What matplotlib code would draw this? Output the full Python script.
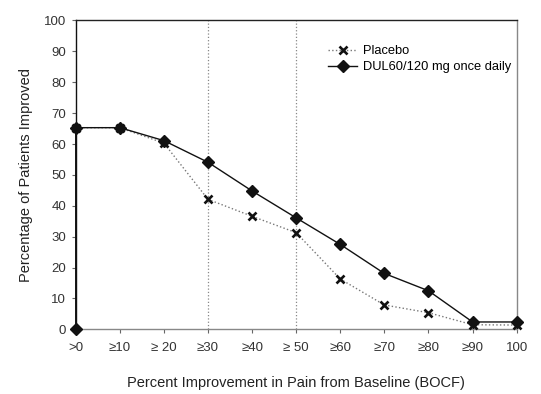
import matplotlib
matplotlib.use("Agg")
import matplotlib.pyplot as plt

categories = [">0", "≥10", "≥ 20", "≥30", "≥40", "≥ 50", "≥60", "≥70", "≥80", "≥90", "100"]
placebo = [65.3, 65.3, 60.3, 42.1, 36.6, 31.3, 16.3, 7.9, 5.4, 1.5, 1.4]
dul = [65.3, 65.3, 61.1, 54.1, 44.8, 36.1, 27.5, 18.1, 12.5, 2.4, 2.4]
origin_value = [0.0]
ref_lines = [3, 5]
yticks = list(range(0, 101, 10))

plt.rcParams['font.family'] = ['Liberation Sans', 'DejaVu Sans']

fig = plt.figure(figsize=(5.41, 3.94), dpi=100)
ax = fig.add_axes([0.140, 0.164, 0.815, 0.784])

x = list(range(len(categories)))
for xv in ref_lines:
    ax.axvline(xv, color='#888888', linestyle=':', linewidth=0.9, zorder=1)

ax.plot(x, placebo, color='#777777', linestyle=':', linewidth=1.0, marker='x',
        markersize=6, markeredgewidth=1.9, markeredgecolor='#111111',
        label='Placebo', zorder=3, clip_on=False)
ax.plot([0] + x, origin_value + dul, color='#111111', linestyle='-', linewidth=1.0, marker='D',
        markersize=6, markerfacecolor='#111111', markeredgecolor='#111111',
        label='DUL60/120 mg once daily', zorder=4, clip_on=False)

ax.set_xlim(0, 10)
ax.set_ylim(0, 100)
ax.set_xticks(x)
ax.set_xticklabels(categories)
ax.set_yticks(yticks)

ax.tick_params(axis='both', direction='out', length=3, width=0.8, color='#666666',
               labelsize=9.5, labelcolor='#333333', pad=4)
ax.tick_params(axis='x', pad=6)

ax.spines['left'].set_color('#111111')
ax.spines['top'].set_color('#222222')
ax.spines['right'].set_color('#888888')
ax.spines['bottom'].set_color('#888888')
for s in ax.spines.values():
    s.set_linewidth(1.0)

ax.set_ylabel('Percentage of Patients Improved', fontsize=10.5, color='#222222', labelpad=8)
ax.set_xlabel('Percent Improvement in Pain from Baseline (BOCF)', fontsize=10.5, color='#222222', labelpad=16)

ax.legend(loc='upper right', bbox_to_anchor=(1.0, 0.937), frameon=False, fontsize=9.3,
          handlelength=2.2, handletextpad=0.5, labelspacing=0.3, borderaxespad=0.0,
          borderpad=0.4)

fig.savefig('out.png', dpi=100)
